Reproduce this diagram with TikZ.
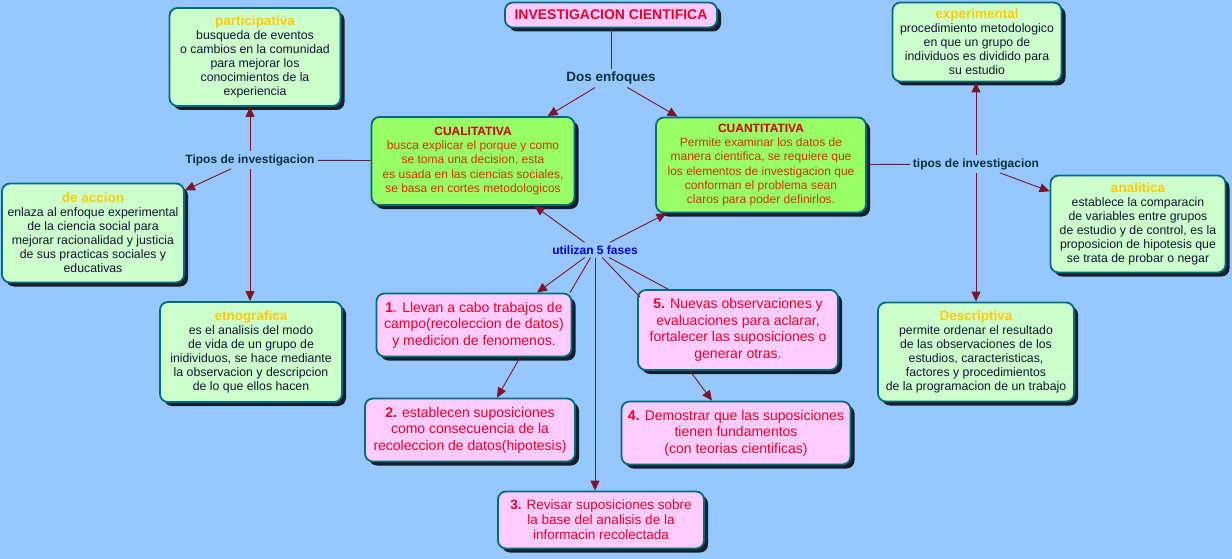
\documentclass[tikz,border=0pt]{standalone}
\usepackage{fontspec}
\setmainfont{Liberation Sans}
\usetikzlibrary{arrows.meta, shadows}

\definecolor{bgblue}{RGB}{150,200,255}
\definecolor{edgeteal}{RGB}{0,108,128}
\definecolor{shadowdark}{RGB}{22,30,40}
\definecolor{mainfill}{RGB}{153,255,102}
\definecolor{typefill}{RGB}{204,255,204}
\definecolor{phasefill}{RGB}{255,204,255}
\definecolor{linkred}{RGB}{125,20,45}
\definecolor{phasetext}{RGB}{230,0,40}
\definecolor{headred}{RGB}{204,0,0}
\definecolor{bodyorange}{RGB}{204,51,0}
\definecolor{headyellow}{RGB}{255,204,0}
\definecolor{bodynavy}{RGB}{20,20,50}
\definecolor{dosteal}{RGB}{10,50,60}
\definecolor{fasesblue}{RGB}{0,0,204}

\begin{document}
\begin{tikzpicture}[
  x=1pt, y=-1pt,
  box/.style={draw=edgeteal, line width=1.8pt, rounded corners=8pt, align=center, inner sep=2pt,
    drop shadow={shadow xshift=4pt, shadow yshift=-4pt, fill=shadowdark, opacity=1}},
  titlebox/.style={box, fill=phasefill, text=phasetext, font=\bfseries\fontsize{14}{16}\selectfont},
  mainbox/.style={box, fill=mainfill, text=bodyorange, font=\fontsize{12}{14.3}\selectfont},
  typebox/.style={box, fill=typefill, text=bodynavy, font=\fontsize{12.3}{14}\selectfont},
  phasebox/.style={box, fill=phasefill, text=phasetext, font=\fontsize{14}{16.5}\selectfont},
  phrase/.style={inner sep=3pt, font=\bfseries\fontsize{12}{14}\selectfont, text=dosteal},
  link/.style={draw=linkred, line width=0.9pt},
  arr/.style={link, -{Triangle[length=10pt, width=9pt]}},
  thead/.style={text=headyellow, font=\bfseries\fontsize{13.5}{15}\selectfont}
]

\useasboundingbox (0,0) rectangle (1232,559);
\fill[bgblue] (0,0) rectangle (1232,559);

\node[titlebox, minimum width=212, minimum height=25] (title) at (611,15) {INVESTIGACION CIENTIFICA};
\node[phrase, font=\bfseries\fontsize{13.5}{15}\selectfont] (dos) at (611,78) {Dos enfoques};

\node[mainbox, minimum width=203, minimum height=88] (cuali) at (473,161)
  {\textcolor{headred}{\textbf{CUALITATIVA}}\\busca explicar el porque y como\\se toma una decision, esta\\es usada en las ciencias sociales,\\se basa en cortes metodologicos};
\node[mainbox, minimum width=210, minimum height=95] (cuanti) at (761,165)
  {\textcolor{headred}{\textbf{CUANTITATIVA}}\\Permite examinar los datos de\\manera cientifica, se requiere que\\los elementos de investigacion que\\conforman el problema sean\\claros para poder definirlos.};

\node[phrase] (tiposL) at (250,160) {Tipos de investigacion};
\node[phrase] (tiposR) at (976,164) {tipos de investigacion};
\node[phrase, text=fasesblue] (fases) at (595,250) {utilizan 5 fases};

\node[typebox, minimum width=171, minimum height=98] (partic) at (255,57)
  {\textcolor{headyellow}{\bfseries\fontsize{13.5}{15}\selectfont participativa}\\busqueda de eventos\\o cambios en la comunidad\\para mejorar los\\conocimientos de la\\experiencia};
\node[typebox, minimum width=182, minimum height=99] (accion) at (93,233)
  {\textcolor{headyellow}{\bfseries\fontsize{13.5}{15}\selectfont de accion}\\enlaza al enfoque experimental\\de la ciencia social para\\mejorar racionalidad y justicia\\de sus practicas sociales y\\educativas};
\node[typebox, minimum width=182, minimum height=100] (etno) at (251,352)
  {\textcolor{headyellow}{\bfseries\fontsize{13.5}{15}\selectfont etnografica}\\es el analisis del modo\\de vida de un grupo de\\inidividuos, se hace mediante\\la observacion y descripcion\\de lo que ellos hacen};
\node[typebox, minimum width=169, minimum height=79] (exper) at (977,42)
  {\textcolor{headyellow}{\bfseries\fontsize{13.5}{15}\selectfont experimental}\\procedimiento metodologico\\en que un grupo de\\individuos es dividido para\\su estudio};
\node[typebox, minimum width=175, minimum height=97] (analit) at (1138,224)
  {\textcolor{headyellow}{\bfseries\fontsize{13.5}{15}\selectfont analitica}\\establece la comparacin\\de variables entre grupos\\de estudio y de control, es la\\proposicion de hipotesis que\\se trata de probar o negar};
\node[typebox, minimum width=196, minimum height=99] (descr) at (976,352)
  {\textcolor{headyellow}{\bfseries\fontsize{13.5}{15}\selectfont Descriptiva}\\permite ordenar el resultado\\de las observaciones de los\\estudios, caracteristicas,\\factores y procedimientos\\de la programacion de un trabajo};

\node[phasebox, minimum width=195, minimum height=63] (f1) at (474,325)
  {\textbf{1}. Llevan a cabo trabajos de\\campo(recoleccion de datos)\\y medicion de fenomenos.};
\node[phasebox, minimum width=210, minimum height=63] (f2) at (470,430)
  {\textbf{2.} establecen suposiciones\\como consecuencia de la\\recoleccion de datos(hipotesis)};
\node[phasebox, minimum width=206, minimum height=57, font=\fontsize{13.5}{15}\selectfont] (f3) at (601,520)
  {\textbf{3.} Revisar suposiciones sobre\\la base del analisis de la\\informacin recolectada};
\node[phasebox, minimum width=229, minimum height=63] (f4) at (736,433)
  {\textbf{4.} Demostrar que las suposiciones\\tienen fundamentos\\(con teorias cientificas)};
\node[phasebox, minimum width=200, minimum height=80] (f5) at (738,330)
  {\textbf{5.} Nuevas observaciones y\\evaluaciones para aclarar,\\fortalecer las suposiciones o\\generar otras.};

\draw[link] (title) -- (dos);
\draw[arr] (dos) -- (cuali);
\draw[arr] (dos) -- (cuanti);

\draw[link] (cuali) -- (tiposL);
\draw[arr] (tiposL.north) -- (tiposL.north |- partic.south);
\draw[arr] (tiposL) -- (accion);
\draw[arr] (tiposL.south) -- (tiposL.south |- etno.north);

\draw[link] (cuanti) -- (tiposR);
\draw[arr] (tiposR.north) -- (tiposR.north |- exper.south);
\draw[arr] (tiposR) -- (analit);
\draw[arr] (tiposR.south) -- (tiposR.south |- descr.north);

\draw[arr] (fases) -- (cuali);
\draw[arr] (fases) -- (cuanti);
\draw[arr] (fases) -- ([xshift=63]f1.north);
\draw[link] ([xshift=96]f1.north) -- (fases);
\draw[arr] (fases.south) -- (fases.south |- f3.north);
\draw[link] ([xshift=-98,yshift=-8]f5.north) -- (fases);
\draw[link] (fases) -- ([xshift=-70]f5.north);

\draw[arr] ([xshift=46]f1.south) -- ([xshift=27]f2.north);
\draw[arr] ([xshift=-48]f5.south) -- ([xshift=-24]f4.north);

\end{tikzpicture}
\end{document}
